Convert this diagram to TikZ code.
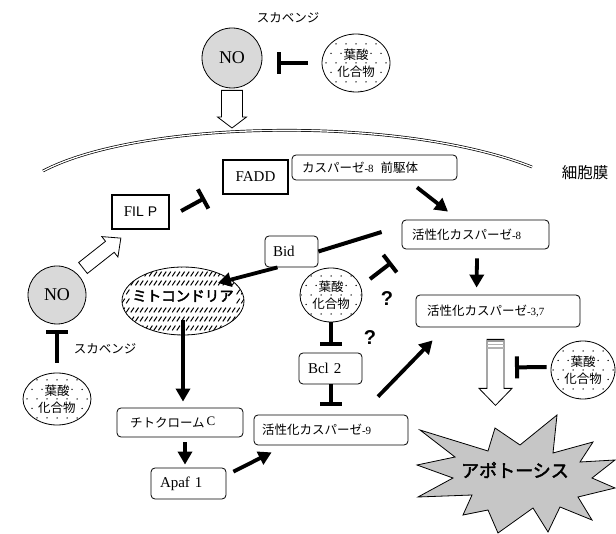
\documentclass[tikz,border=0pt]{standalone}
\usepackage{fontspec}
\setmainfont{Liberation Serif}
\setsansfont{Liberation Sans}
\newfontfamily\jp{Noto Sans CJK JP}
\newfontfamily\jpb[FakeBold=2.5]{Noto Sans CJK JP}
\usetikzlibrary{arrows.meta,calc,shapes.geometric}
\newcommand\sn[1]{{\rmfamily\fontsize{11}{11}\selectfont #1}}
\newcommand\wb[1]{{\setlength\fboxsep{0.4pt}\colorbox{white}{#1}}}
\newcommand\hollowarrow[5]{%
  \draw[line width=0.8pt, fill=white] let \p1=#1, \p2=#2,
    \n1={veclen(\x2-\x1,\y2-\y1)}, \n2={atan2(\y2-\y1,\x2-\x1)} in
    [shift={(\p1)}, rotate=\n2]
    (0pt,-#3) -- ({\n1-#5},-#3) -- ({\n1-#5},-#4) -- (\n1,0pt)
    -- ({\n1-#5},#4) -- ({\n1-#5},#3) -- (0pt,#3) -- cycle;}
\tikzset{
  base/.style={font=\fontsize{12.5}{15}\selectfont},
  box/.style={base, draw, rounded corners=4pt, line width=0.8pt, inner ysep=0pt, align=left},
  latin/.style={font=\fontsize{15}{15}\selectfont},
  thickbox/.style={draw, line width=2.2pt, inner sep=0pt, font=\fontsize{15}{15}\selectfont},
  nocirc/.style={circle, draw, fill=gray!30, line width=0.8pt, minimum size=#1, inner sep=0pt,
    font=\fontsize{18}{18}\selectfont},
  folate/.style={ellipse, draw, line width=0.8pt, inner sep=0pt, align=center,
    font=\jp\fontsize{12.5}{17}\selectfont,
    path picture={\foreach \i in {-4,...,4}{\foreach \j in {-3,...,3}{
      \fill ($(path picture bounding box.center)+({\i*10+5*abs(mod(\j,2))},{\j*9.5})$) circle (0.75pt);}}}},
  hatch/.style={path picture={\foreach \r in {-4,...,4}{\foreach \c in {-14,...,14}{
      \pgfmathtruncatemacro\hatchgap{(abs(\r*9+5)<8 && abs(\c*4.6)<55) ? 1 : 0}
      \ifnum\hatchgap=0
      \draw[line width=1pt] ($(path picture bounding box.center)+({\c*4.6-1.6},{\r*9+2.4})$) -- ++(3.2,-4.8);
      \fi}}}},
  jplabel/.style={font=\jp\fontsize{12.5}{12.5}\selectfont},
  act/.style={line width=3.8pt, -{Triangle[length=13pt,width=14pt]}},
  inh/.style={line width=4pt, -{Bar[width=22pt]}},
  plainline/.style={line width=4pt},
  qmark/.style={font=\sffamily\bfseries\fontsize{20}{20}\selectfont},
}
\begin{document}
\begin{tikzpicture}[x=1pt,y=-1pt]
\useasboundingbox (0,0) rectangle (616,534);

% membrane
\draw[double, double distance=1.3pt, line width=0.7pt] (43,171) .. controls (140,120) and (400,115) .. (532,167);
\coordinate (memhit) at (232,128);
\node[font=\jp\fontsize{15.5}{15.5}\selectfont] (cellmem) at (585,173) {細胞膜};

% nodes
\node[nocirc=60pt] (no1) at (232,58) {NO};
\node[jplabel] (scav1) at (288,18) {スカベンジ};
\node[folate, minimum width=68pt, minimum height=58pt] (fol1) at (356,63) {\wb{葉酸}\\\wb{化合物}};

\node[thickbox, minimum width=65pt, minimum height=34pt] (fadd) at (255.5,177) {FADD};
\node[box, text width=145pt, inner xsep=10pt, minimum height=25pt] (casp8p) at (374.5,167.5)
  {\jp カスパーゼ\sn{-8}\hspace{7pt}前駆体};
\node[thickbox, minimum width=57pt, minimum height=34pt] (filp) at (140.5,212) {F{\sffamily\fontsize{14}{14}\selectfont IL P}};

\node[nocirc=58pt] (no2) at (57,295) {NO};
\node[box, latin, text width=37pt, inner xsep=8pt, minimum height=31pt] (bid) at (291.5,251.5) {Bid};
\node[box, text width=127pt, inner xsep=10pt, minimum height=29pt] (casp8) at (475.5,234.5)
  {\jp 活性化カスパーゼ\sn{-8}};

\node[ellipse, draw, line width=0.8pt, minimum width=122pt, minimum height=68pt, hatch] (mito) at (183,301) {};
\node[font=\jpb\fontsize{14.5}{14.5}\selectfont] (mitolabel) at (183,296) {ミトコンドリア};

\node[folate, minimum width=62pt, minimum height=54pt] (fol2) at (331,295) {\wb{葉酸}\\\wb{化合物}};
\node[box, text width=142pt, inner xsep=11pt, minimum height=32pt] (casp37) at (498,311)
  {\jp 活性化カスパーゼ\sn{-3,7}};
\node[box, latin, text width=45pt, inner xsep=9pt, minimum height=31pt] (bcl2) at (330.5,368.5) {Bcl 2};
\node[qmark] (q1) at (387,299) {?};
\node[qmark] (q2) at (370,338) {?};

\node[jplabel] (scav2) at (105,349) {スカベンジ};
\node[folate, minimum width=68pt, minimum height=52pt] (fol3) at (57,399) {\wb{葉酸}\\\wb{化合物}};
\node[folate, minimum width=64pt, minimum height=58pt] (fol4) at (583,370) {\wb{葉酸}\\\wb{化合物}};

\node[box, text width=100pt, inner xsep=13pt, minimum height=29pt] (cytc) at (180,422.5)
  {\jp チトクローム\,\raisebox{2pt}{\rmfamily\fontsize{13}{13}\selectfont C}};
\node[box, text width=138pt, inner xsep=8pt, minimum height=30pt] (casp9) at (331,430)
  {\jp 活性化カスパーゼ\sn{-9}};
\node[box, latin, text width=57pt, inner xsep=9pt, minimum height=31pt] (apaf) at (188.5,483.5) {Apaf 1};

% apoptosis starburst
\draw[fill=gray!45, line width=0.8pt] (420,430) -- (488,451) -- (495,428) -- (520,445) -- (557,415)
  -- (553,453) -- (593,442) -- (580,462) -- (615,460) -- (592,478) -- (615,488) -- (578,497)
  -- (592,520) -- (560,507) -- (548,532) -- (533,508) -- (498,533) -- (488,510) -- (463,515)
  -- (472,495) -- (418,497) -- (453,478) -- (417,465) -- (455,457) -- cycle;
\node[font=\jpb\fontsize{18}{18}\selectfont] (apop) at (515,470) {アポトーシス};

% hollow arrows
\hollowarrow{($(no1.south)+(0,2)$)}{(memhit)}{10.5pt}{14.5pt}{11pt}
\hollowarrow{($(no2.center)+(26,-27)$)}{($(filp.south west)+(10,8)$)}{7pt}{13pt}{14pt}
\coordinate (h3top) at ($(casp37.south)+(-2.5,12)$);
\coordinate (h3tip) at ($(h3top)+(0,66)$);
\hollowarrow{(h3top)}{(h3tip)}{8.5pt}{16.5pt}{17pt}
\begin{scope}[shift={(h3top)}]
  \fill[gray!80] (-8.1,0.6) rectangle (8.1,2.4);
  \fill[gray!60] (-8.1,4.2) rectangle (8.1,6);
  \fill[gray!60] (-8.1,7.8) rectangle (8.1,9.6);
\end{scope}
\coordinate (h3bar) at ($(casp37.south)+(17,40)$);

% inhibition connectors
\draw[inh, shorten <=14pt, shorten >=15pt] (fol1.west) -- (fol1.west -| no1.east);
\draw[inh, shorten <=10pt, shorten >=6pt] (fol3.north) -- (no2.south);
\draw[inh] ($(filp.east)+(11,-1)$) -- ($(fadd.west)+(-17,21)$);
\draw[inh] ($(fol2.center)+(39,-16)$) -- ($(casp8.south west)+(-10,13)$);
\draw[inh, shorten >=7pt] (fol2.south) -- (fol2.south |- bcl2.north);
\draw[inh, shorten >=9pt] (bcl2.south) -- (bcl2.south |- casp9.north);
\draw[inh] ($(fol4.west)+(-4,-3)$) -- (h3bar);

% activation connectors
\draw[act] ($(casp8p.south)+(42.5,7)$) -- ($(casp8.north)+(-27.5,-8)$);
\draw[act] ($(casp8.south)+(1.5,9)$) -- ($(casp37.north west)+(61,-7)$);
\draw[plainline] ($(casp8.west)+(-20,-2.5)$) -- (bid.east);
\draw[act] ($(bid.south)+(-14,0)$) -- ($(mito.center)+(35,-18)$);
\draw[act] ($(mito.center)+(0,19)$) -- ($(cytc.north)+(3,-6)$);
\draw[act] ($(cytc.south)+(5,5)$) -- ($(apaf.north)+(-3.5,-3)$);
\draw[act] ($(apaf.north east)+(7,4)$) -- ($(casp9.south west)+(18,7)$);
\draw[act] ($(casp9.north)+(47,-18)$) -- ($(casp37.south west)+(17,13)$);
\end{tikzpicture}
\end{document}
